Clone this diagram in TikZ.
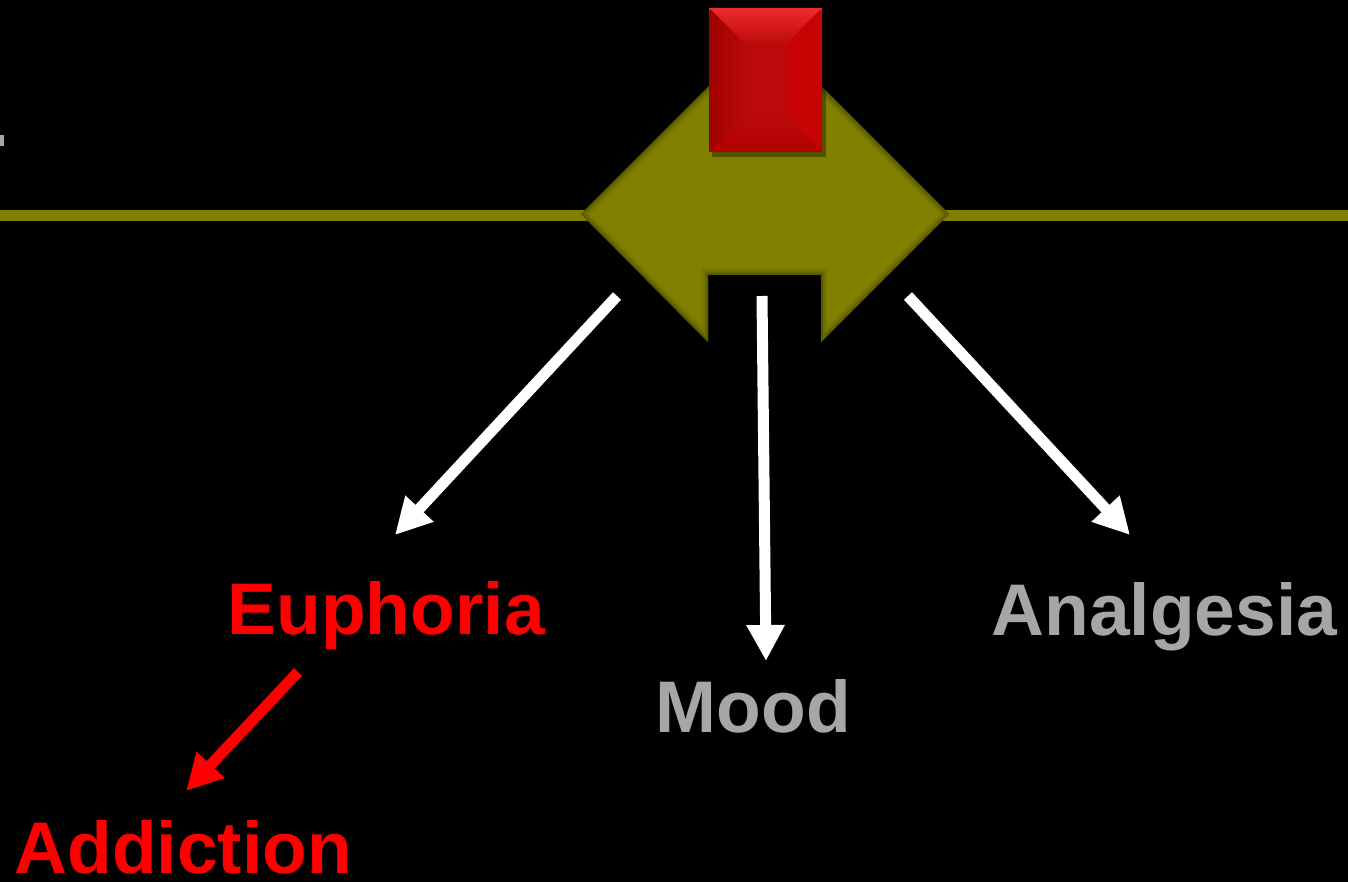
\documentclass[tikz,border=0pt]{standalone}
\usepackage{fontspec}
\setmainfont{Liberation Sans}
\usetikzlibrary{arrows.meta}
\definecolor{olivebar}{HTML}{808000}
\definecolor{oliveedge}{HTML}{4A4A00}
\definecolor{labelgray}{HTML}{A6A6A6}
\definecolor{redface}{HTML}{BA0A0A}
\definecolor{redtop}{HTML}{EE2A2A}
\definecolor{redleft}{HTML}{9E0000}
\definecolor{redright}{HTML}{C60404}
\definecolor{redbottom}{HTML}{B30000}
\tikzset{
  effect/.style={draw=white, line width=0.11cm,
    -{Triangle[length=0.36cm,width=0.36cm]}},
  effectred/.style={effect, draw=red},
  lbl/.style={inner sep=0pt, anchor=base west,
    font=\fontsize{20.8}{25}\selectfont\bfseries},
}
\begin{document}
\begin{tikzpicture}[x=0.01cm,y=-0.01cm]
  % background
  \fill[black] (0,0) rectangle (1348,882);
  \useasboundingbox (0,0) rectangle (1348,882);

  % membrane line
  \fill[olivebar] (0,210) rectangle (1348,221);

  % receptor body: diamond with a notch at the bottom
  \def\receptor{(581,214) -- (765,30) -- (949,214) -- (821,342) -- (821,275)
    -- (708,275) -- (708,342) -- cycle}
  \fill[olivebar] \receptor;
  \begin{scope}
    \clip \receptor;
    \draw[oliveedge, line width=0.12cm, opacity=0.2] \receptor;
    \draw[oliveedge, line width=0.07cm, opacity=0.3] \receptor;
    \draw[oliveedge, line width=0.03cm, opacity=0.45] \receptor;
  \end{scope}

  % ligand block with bevelled faces
  \fill[black, opacity=0.35] (712,12) rectangle (826,157);
  \fill[redface] (709,8) rectangle (822,152);
  \shade[top color=redtop, bottom color=redface]
    (709,8) -- (822,8) -- (785,45) -- (746,45) -- cycle;
  \shade[left color=redleft, right color=redface]
    (709,8) -- (746,45) -- (746,115) -- (709,152) -- cycle;
  \fill[redright] (822,8) -- (785,45) -- (785,115) -- (822,152) -- cycle;
  \shade[top color=redface, bottom color=redbottom]
    (709,152) -- (746,115) -- (785,115) -- (822,152) -- cycle;
  \draw[redtop, line width=0.02cm] (709,9) -- (822,9);
  \draw[red!70!black, line width=0.015cm] (709,151.5) -- (822,151.5);

  % small cut-off mark at the left edge
  \fill[labelgray] (0,135) rectangle (4,146);

  % labels
  \node[lbl, text=red] (euph) at (227,634) {Euphoria};
  \node[lbl, text=labelgray] (mood) at (655,732) {Mood};
  \node[lbl, text=labelgray] (analg) at (991,635) {Analgesia};
  \node[lbl, text=red] (addict) at (14,873) {Addiction};

  % arrow ends
  \coordinate (sL) at (617,296);
  \coordinate (eL) at (395,535);
  \coordinate (sM) at (762,296);
  \coordinate (eM) at (766,661);
  \coordinate (sR) at (908,296);
  \coordinate (eR) at (1130,535);
  \coordinate (sA) at (298,672);
  \coordinate (eA) at (186,791);

  % effects
  \draw[effect] (sL) -- (eL);
  \draw[effect] (sM) -- (eM);
  \draw[effect] (sR) -- (eR);
  \draw[effectred] (sA) -- (eA);
\end{tikzpicture}
\end{document}
